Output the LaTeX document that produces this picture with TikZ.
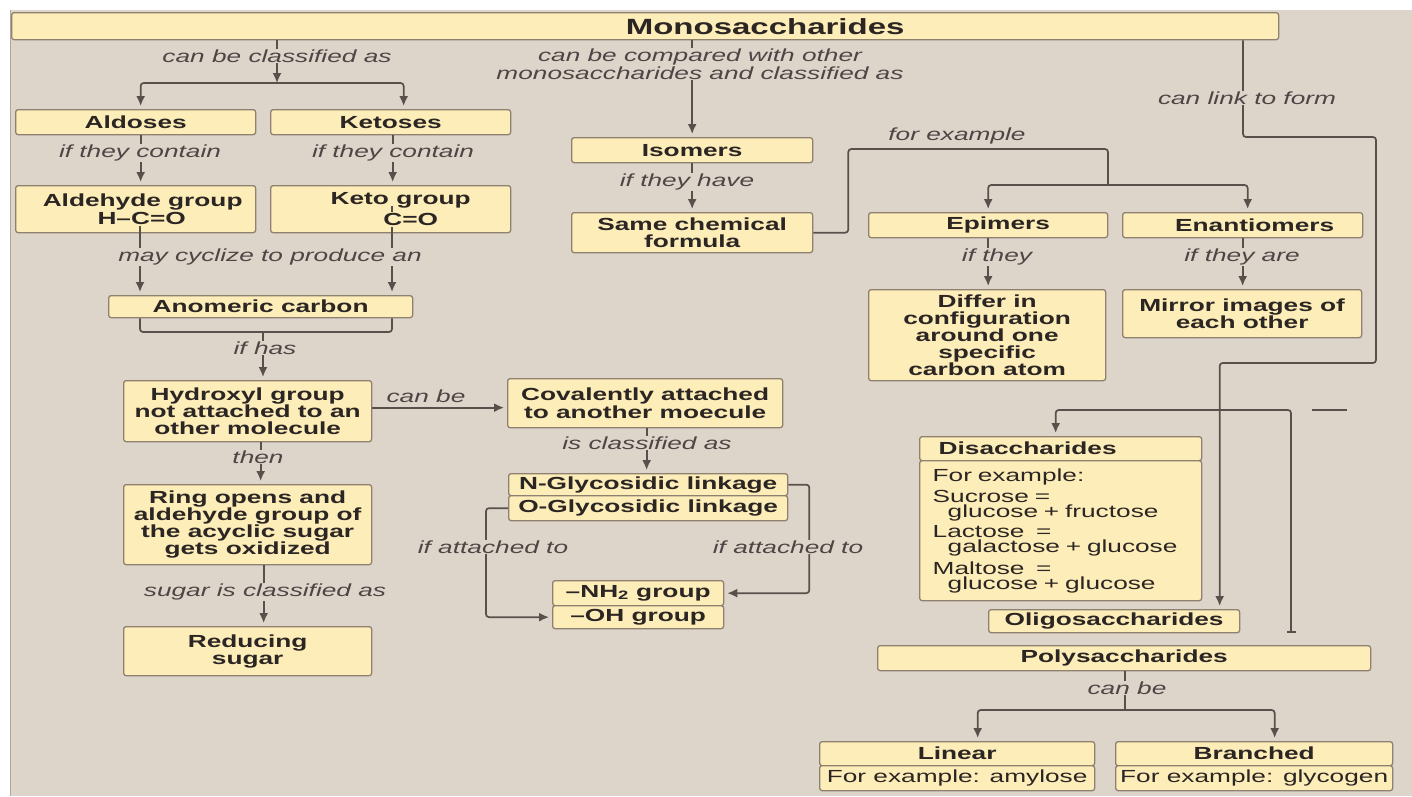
\documentclass[tikz,border=0pt]{standalone}
\usepackage{fontspec}
\usepackage{tikz}
\usetikzlibrary{positioning, arrows.meta, calc}
\newfontfamily\chartfont{Liberation Sans}[FakeStretch=1.5]
\definecolor{cPanel}{HTML}{DDD4CA}
\definecolor{cBox}  {HTML}{FDEDB9}
\definecolor{cEdge} {HTML}{8E8170}
\definecolor{cInk}  {HTML}{2B2523}
\definecolor{cNote} {HTML}{4E4545}
\definecolor{cLink} {HTML}{5A504B}

\begin{document}
\begin{tikzpicture}[x=1pt, y=-1pt,
    box/.style={draw=cEdge, fill=cBox, line width=1.3pt, rounded corners=2.5pt,
      anchor=north west, inner sep=0pt, align=center, text=cInk,
      font=\chartfont\bfseries\fontsize{17.5}{17.2}\selectfont},
    note/.style={fill=cPanel, inner sep=1pt, align=center, text=cNote,
      font=\chartfont\itshape\fontsize{17.5}{18}\selectfont},
    link/.style={draw=cLink, line width=1.7pt, rounded corners=3pt},
    arr/.style={link, shorten >=3pt, -{Latex[length=10pt, width=9pt]}},
  ]
  \useasboundingbox (0,0) rectangle (1412,796);
  \fill[white] (0,0) rectangle (1412,796);
  \fill[cPanel] (10,10) rectangle (1412,796);
  \draw[cEdge!70, line width=1.5pt] (10.5,10) -- (10.5,796);

  \node[box, minimum width=1267pt, minimum height=27pt,
        font=\chartfont\bfseries\fontsize{22}{22}\selectfont]
       (mono_box) at (11,12) {\hspace*{240pt}Monosaccharides};

  \node[box, minimum width=240pt, minimum height=25pt] (aldo_box) at (15,109) {Aldoses};
  \node[box, minimum width=240pt, minimum height=25pt] (keto_box) at (270,109) {Ketoses};
  \node[box, minimum width=240pt, minimum height=47pt] (aldgrp_box) at (15,185)
       {\hspace*{14pt}Aldehyde group\\\hspace*{12pt}H–C=O};
  \node[box, minimum width=240pt, minimum height=47pt] (ketgrp_box) at (270,185)
       {\hspace*{20pt}Keto group\\[3pt]\hspace*{40pt}C=O};
  \node[box, minimum width=304pt, minimum height=22pt] (anom_box) at (108,295) {Anomeric carbon};
  \node[box, minimum width=248pt, minimum height=61pt] (hydr_box) at (123,380)
       {Hydroxyl group\\not attached to an\\other molecule};
  \node[box, minimum width=248pt, minimum height=80pt] (ring_box) at (123,484)
       {Ring opens and\\aldehyde group of\\the acyclic sugar\\gets oxidized};
  \node[box, minimum width=248pt, minimum height=49pt] (redu_box) at (123,626) {Reducing\\sugar};

  \node[box, minimum width=275pt, minimum height=49pt] (cova_box) at (507,378)
       {Covalently attached\\to another moecule};
  \node[box, minimum width=279pt, minimum height=22pt] (ngly_box) at (508,473) {N-Glycosidic linkage};
  \node[box, minimum width=279pt, minimum height=25pt] (ogly_box) at (508,495) {O-Glycosidic linkage};
  \node[box, minimum width=171pt, minimum height=25pt] (nh2_box) at (552,580) {–NH\textsubscript{2} group};
  \node[box, minimum width=171pt, minimum height=23pt] (oh_box) at (552,605) {–OH group};

  \node[box, minimum width=241pt, minimum height=25pt] (isom_box) at (571,137) {Isomers};
  \node[box, minimum width=241pt, minimum height=40pt] (same_box) at (571,212) {Same chemical\\formula};
  \node[box, minimum width=239pt, minimum height=25pt] (epim_box) at (868,212) {\hspace*{20pt}Epimers};
  \node[box, minimum width=240pt, minimum height=25pt] (enan_box) at (1122,212) {\hspace*{24pt}Enantiomers};
  \node[box, minimum width=237pt, minimum height=91pt] (diff_box) at (868,289)
       {Differ in\\configuration\\around one\\specific\\carbon atom};
  \node[box, minimum width=239pt, minimum height=48pt] (mirr_box) at (1122,289)
       {Mirror images of\\each other};

  \node[box, minimum height=24pt, text width=244pt, inner xsep=19pt, align=left]
       (dihd_box) at (919,436) {Disaccharides};
  \node[box, minimum height=140pt, text width=256pt, inner xsep=13pt, align=left,
        font=\chartfont\fontsize{17.5}{15}\selectfont] (dibd_box) at (919,460)
       {For example:\\[4pt]Sucrose =\\\hspace*{15pt}glucose + fructose\\[4pt]Lactose\ \ =\\
        \hspace*{15pt}galactose + glucose\\[4pt]Maltose\ \ =\\\hspace*{15pt}glucose + glucose};
  \node[box, minimum width=251pt, minimum height=23pt] (olig_box) at (988,609) {Oligosaccharides};
  \node[box, minimum width=493pt, minimum height=25pt] (poly_box) at (877,645) {Polysaccharides};
  \node[box, minimum width=275pt, minimum height=24pt] (linh_box) at (819,741) {Linear};
  \node[box, minimum width=275pt, minimum height=25pt,
        font=\chartfont\fontsize{17.5}{17}\selectfont] (linb_box) at (819,765) {For example: amylose};
  \node[box, minimum width=277pt, minimum height=24pt] (brah_box) at (1115,741) {Branched};
  \node[box, minimum width=277pt, minimum height=25pt,
        font=\chartfont\fontsize{17.5}{17}\selectfont] (brab_box) at (1115,765) {For example: glycogen};

  \coordinate (cls_fork) at (277,83);
  \draw[arr, shorten >=0pt] (mono_box.south -| cls_fork) -- (cls_fork);
  \draw[arr] (cls_fork) -| ([xshift=5pt]aldo_box.north);
  \draw[arr] (cls_fork) -| ([xshift=13pt]keto_box.north);
  \draw[arr] ([xshift=5pt]aldo_box.south) -- ([xshift=5pt]aldgrp_box.north);
  \draw[arr] ([xshift=2pt]keto_box.south) -- ([xshift=2pt]ketgrp_box.north);

  \coordinate (ald_c) at (140,226);
  \coordinate (ket_c) at (392,227);
  \draw[link] (392,205.5) -- (392,212);
  \draw[arr] (ald_c) -- (ald_c |- anom_box.north);
  \draw[arr] (ket_c) -- (ket_c |- anom_box.north);

  \coordinate (has_fork) at (263,332);
  \draw[link] (ald_c |- anom_box.south) |- (has_fork) -| (ket_c |- anom_box.south);
  \draw[arr] (has_fork) -- (has_fork |- hydr_box.north);
  \draw[arr] ([xshift=13pt]hydr_box.south) -- ([xshift=13pt]ring_box.north);
  \draw[arr] ([xshift=16pt]ring_box.south) -- ([xshift=16pt]redu_box.north);
  \draw[arr] ([yshift=3.5pt]hydr_box.east) -- ([yshift=3.5pt]hydr_box.east -| cova_box.west);
  \draw[arr] ([xshift=1.5pt]cova_box.south) -- ([xshift=1.5pt]cova_box.south |- ngly_box.north);
  \draw[arr] (ngly_box.east) -- ++(21,0) |- (nh2_box.east);
  \draw[arr] (ogly_box.west) -- ++(-22,0) |- (oh_box.west);

  \draw[arr] (mono_box.south -| isom_box.north) -- (isom_box.north);
  \draw[arr] (isom_box.south) -- (same_box.north);
  \coordinate (ex_top) at (1108,149);
  \coordinate (ex_fork) at (1108,185);
  \draw[link] (same_box.east) -- ++(35,0) |- (ex_top) -- (ex_fork);
  \draw[arr] (ex_fork) -| (epim_box.north);
  \draw[arr] (ex_fork) -| ([xshift=5pt]enan_box.north);
  \draw[arr] (epim_box.south) -- (epim_box.south |- diff_box.north);
  \draw[arr] (enan_box.south) -- (enan_box.south |- mirr_box.north);

  \coordinate (link_a) at (1243,137);
  \coordinate (link_b) at (1376,363);
  \draw[arr] (mono_box.south -| link_a) -- (link_a) -| (link_b) -| ([xshift=105.5pt]olig_box.north);
  \coordinate (poly_turn) at (1291,410);
  \coordinate (poly_end) at (1291,633);
  \draw[link, shorten <=3pt, {Latex[length=10pt, width=9pt]}-{Bar[width=9pt, line width=1.7pt]}]
       ([xshift=-5pt]dihd_box.north) |- (poly_turn) -- (poly_end);
  \coordinate (stub_a) at (1312,410);
  \coordinate (stub_b) at (1347,410);
  \draw[link] (stub_a) -- (stub_b);

  \coordinate (lb_fork) at (1125,710);
  \draw[link] (poly_box.south -| lb_fork) -- (lb_fork);
  \draw[arr] (lb_fork) -| ([xshift=20.5pt]linh_box.north);
  \draw[arr] (lb_fork) -| ([xshift=20.5pt]brah_box.north);

  \node[note] (cls_note) at (277,56) {can be classified as};
  \node[note] (ald_note) at (140,153) {if they contain};
  \node[note] (ket_note) at (393,153) {if they contain};
  \node[note] (cyc_note) at (270,257) {may cyclize to produce an};
  \node[note] (has_note) at (265,348) {if has};
  \node[note] (then_note) at (258,457) {then};
  \node[note] (sug_note) at (265,592) {sugar is classified as};
  \node[note, fill=none] (canbe_note) at (426,396) {can be};
  \node[note] (isc_note) at (647,443) {is classified as};
  \node[note] (oatt_note) at (493,547) {if attached to};
  \node[note] (natt_note) at (788,547) {if attached to};
  \node[note] (cmp_note) at (700,64) {can be compared with other\\monosaccharides and classified as};
  \node[note] (have_note) at (687,182) {if they have};
  \node[note, fill=none] (ex_note) at (957,136) {for example};
  \node[note] (epi_note) at (997,257) {if they};
  \node[note] (ena_note) at (1242,257) {if they are};
  \node[note] (lnk_note) at (1247,98) {can link to form};
  \node[note] (lb_note) at (1127,688) {can be};
\end{tikzpicture}
\end{document}
